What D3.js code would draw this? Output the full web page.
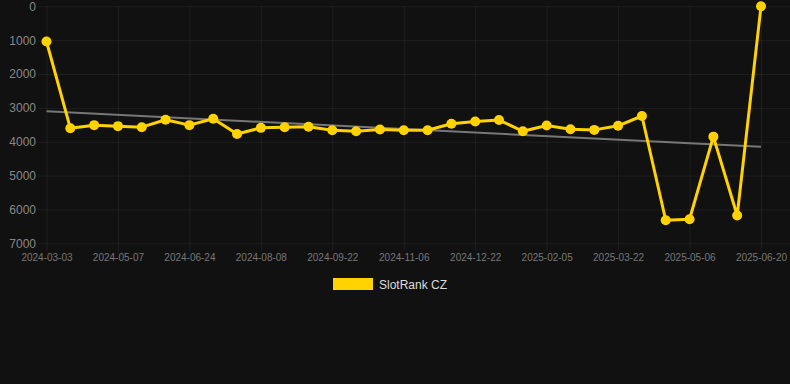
<!DOCTYPE html>
<html>
<head>
<meta charset="utf-8">
<script src="https://cdn.jsdelivr.net/npm/d3@7"></script>
<style>
  html, body { margin: 0; padding: 0; background: #111111; }
  #chart svg { display: block; font-family: Arial, "Liberation Sans", Helvetica, sans-serif; }
</style>
</head>
<body>
<div id="chart"></div>
<script>
const width = 790, height = 384;
const margin = {top: 6.3, right: 29, bottom: 140.7, left: 46.5};

// categories (one per point)
const dates = [
  "2024-03-03", "2024-03-25", "2024-04-16", "2024-05-07", "2024-05-23", "2024-06-08",
  "2024-06-24", "2024-07-09", "2024-07-24", "2024-08-08", "2024-08-23", "2024-09-07",
  "2024-09-22", "2024-10-07", "2024-10-22", "2024-11-06", "2024-11-21", "2024-12-07",
  "2024-12-22", "2025-01-06", "2025-01-21", "2025-02-05", "2025-02-20", "2025-03-07",
  "2025-03-22", "2025-04-06", "2025-04-21", "2025-05-06", "2025-05-21", "2025-06-05",
  "2025-06-20"
];
// SlotRank CZ rank values
const ranks = [
  1040, 3600, 3510, 3540, 3570, 3350, 3510, 3320, 3770, 3590, 3570,
  3560, 3660, 3690, 3640, 3660, 3660, 3470, 3400, 3360, 3690,
  3520, 3630, 3650, 3530, 3240, 6320, 6290, 3850, 6180, 0
];
const xTickLabels = dates.filter((d, i) => i % 3 === 0);
const yTicks = [0, 1000, 2000, 3000, 4000, 5000, 6000, 7000];
const seriesName = "SlotRank CZ";

const lineColor = "#FFD200";
const gridColor = "rgba(255,255,255,0.055)";

let svg = d3.select("#chart").
append("svg").
attr("width", width).
attr("height", height);

const x = d3.scalePoint().
domain(dates).
range([margin.left, width - margin.right]);
const y = d3.scaleLinear().
domain([0, 7000]).
range([margin.top, height - margin.bottom]);

// horizontal grid + y labels
const yAxis = d3.axisLeft(y).
tickValues(yTicks).
tickSize(-(width - 38)).
tickPadding(2).
tickFormat(d3.format("d"));
let gy = svg.append("g").
attr("transform", "translate(38,0)").
call(yAxis);
gy.select(".domain").remove();
gy.selectAll(".tick line").attr("stroke", gridColor);
gy.selectAll(".tick text").
attr("fill", "#888").
attr("font-size", 12);

// vertical grid + x labels
const xAxis = d3.axisBottom(x).
tickValues(xTickLabels).
tickSize(height - margin.bottom + 8 - margin.top).
tickPadding(3);
let gx = svg.append("g").
attr("transform", "translate(0," + margin.top + ")").
call(xAxis);
gx.select(".domain").remove();
gx.selectAll(".tick line").attr("stroke", gridColor);
gx.selectAll(".tick text").
attr("fill", "#777").
attr("font-size", 10);

// linear trend (least squares over point index)
const n = ranks.length;
const mx = d3.mean(ranks, (d, i) => i);
const my = d3.mean(ranks);
const slope = d3.sum(ranks, (d, i) => (i - mx) * (d - my)) / d3.sum(ranks, (d, i) => (i - mx) * (i - mx));
const icpt = my - slope * mx;
svg.append("line").
attr("x1", x(dates[0])).
attr("y1", y(icpt)).
attr("x2", x(dates[n - 1])).
attr("y2", y(icpt + slope * (n - 1))).
attr("stroke", "#777").
attr("stroke-width", 2);

// series line
const line = d3.line().
x((d, i) => x(dates[i])).
y(d => y(d));
svg.append("path").
datum(ranks).
attr("d", line).
attr("fill", "none").
attr("stroke", lineColor).
attr("stroke-width", 3).
attr("stroke-linejoin", "round");

svg.selectAll("circle.pt").
data(ranks).
enter().
append("circle").
attr("class", "pt").
attr("cx", (d, i) => x(dates[i])).
attr("cy", d => y(d)).
attr("r", 5).
attr("fill", lineColor);

// legend
let legend = svg.append("g").attr("transform", "translate(333,278)");
legend.append("rect").
attr("width", 40).
attr("height", 12).
attr("fill", lineColor);
legend.append("text").
attr("x", 46).
attr("y", 10.5).
attr("fill", "#ddd").
attr("font-size", 12).
text(seriesName);
</script>
</body>
</html>
